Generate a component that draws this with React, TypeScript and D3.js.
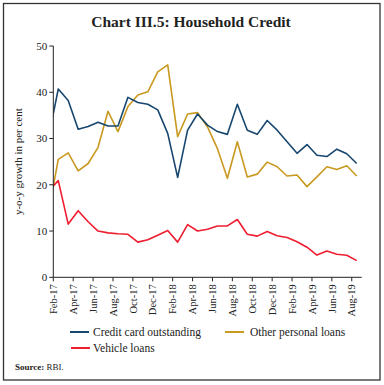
import * as d3 from "d3";

// months shown on the axis (Feb-17 .. Aug-19)
const months = [
  "Feb-17", "Mar-17", "Apr-17", "May-17", "Jun-17", "Jul-17", "Aug-17", "Sep-17", "Oct-17", "Nov-17", "Dec-17",
  "Jan-18", "Feb-18", "Mar-18", "Apr-18", "May-18", "Jun-18", "Jul-18", "Aug-18", "Sep-18", "Oct-18", "Nov-18", "Dec-18",
  "Jan-19", "Feb-19", "Mar-19", "Apr-19", "May-19", "Jun-19", "Jul-19", "Aug-19",
];

// first value of each series is Jan-17, which sits left of the axis and is clipped
const creditCard = [
  30.0, 40.7, 38.2, 32.0, 32.6, 33.5, 32.7, 32.7, 38.9, 37.8, 37.4, 36.2,
  31.1, 21.6, 31.8, 35.3, 32.9, 31.5, 30.9, 37.4, 31.8, 30.9, 33.9, 31.8,
  29.3, 26.8, 28.7, 26.4, 26.1, 27.7, 26.7, 24.6,
];
const otherPersonal = [
  13.9, 25.5, 26.9, 23.0, 24.6, 28.1, 35.9, 31.5, 36.9, 39.4, 40.1, 44.4,
  45.9, 30.4, 35.3, 35.6, 32.5, 27.8, 21.4, 29.3, 21.7, 22.3, 24.9, 23.9,
  21.9, 22.1, 19.6, 21.7, 23.9, 23.3, 24.1, 21.9,
];
const vehicle = [
  18.6, 20.9, 11.5, 14.4, 12.0, 10.0, 9.6, 9.4, 9.3, 7.6, 8.1, 9.1,
  10.1, 7.6, 11.4, 10.0, 10.4, 11.1, 11.1, 12.5, 9.3, 8.9, 9.9, 9.0,
  8.6, 7.7, 6.5, 4.8, 5.7, 5.0, 4.75, 3.6,
];
const yTicks = [0, 10, 20, 30, 40, 50];

const BLUE = "#17466f";
const GOLD = "#c9981f";
const RED = "#ee1d2f";
const FONT = "'Liberation Serif', serif";

const left = 53.3;
const right = 361.7;
const top = 46;
const bottom = 277.3;

const App = () => {
  const x = d3.scaleLinear().domain([0, months.length]).range([left, right]);
  const y = d3.scaleLinear().domain([0, 50]).range([bottom, top]);

  const line = d3
    .line<number>()
    .x((_, i) => x(i - 0.5))
    .y((d) => y(d));

  const series = [
    { data: otherPersonal, color: GOLD },
    { data: creditCard, color: BLUE },
    { data: vehicle, color: RED },
  ];

  return (
    <svg width={384} height={385} style={{ position: "absolute", left: 0, top: 0 }} fontFamily={FONT}>
      <rect x={0} y={0} width={384} height={385} fill="#fff" />
      <rect x={3.5} y={3.5} width={376.5} height={376.5} fill="none" stroke="#333" strokeWidth={1.3} />

      <text x={191} y={27} textAnchor="middle" fontSize={15.5} fontWeight="bold" fill="#222">
        Chart III.5: Household Credit
      </text>

      <defs>
        <clipPath id="plot">
          <rect x={left} y={0} width={right - left + 5} height={385} />
        </clipPath>
      </defs>

      <g clipPath="url(#plot)">
        {series.map((s, k) => (
          <path key={k} d={line(s.data) ?? ""} fill="none" stroke={s.color} strokeWidth={1.6} strokeLinejoin="round" />
        ))}
      </g>

      {/* y axis */}
      <line x1={left} x2={left} y1={top} y2={bottom} stroke="#222" strokeWidth={1} />
      {yTicks.map((t) => (
        <g key={t}>
          <line x1={left - 4} x2={left} y1={y(t)} y2={y(t)} stroke="#222" />
          <text x={left - 6} y={y(t)} dy="0.35em" textAnchor="end" fontSize={11} fill="#222">
            {t}
          </text>
        </g>
      ))}
      <text
        transform={`translate(22,${(top + bottom) / 2}) rotate(-90)`}
        textAnchor="middle"
        fontSize={11}
        fill="#222"
      >
        y-o-y growth in per cent
      </text>

      {/* x axis */}
      <line x1={left} x2={right} y1={bottom} y2={bottom} stroke="#222" strokeWidth={1} />
      {months.map((m, i) =>
        i % 2 === 0 ? (
          <g key={m}>
            <line x1={x(i)} x2={x(i)} y1={bottom} y2={bottom + 4} stroke="#222" />
            <text
              transform={`translate(${x(i)},${bottom + 7}) rotate(-90)`}
              dy="0.35em"
              textAnchor="end"
              fontSize={10.5}
              fill="#222"
            >
              {m}
            </text>
          </g>
        ) : null
      )}

      {/* legend */}
      <line x1={70} x2={89} y1={332} y2={332} stroke={BLUE} strokeWidth={2} />
      <text x={93} y={332} dy="0.35em" fontSize={11.5} fill="#222">Credit card outstanding</text>
      <line x1={225} x2={244} y1={332} y2={332} stroke={GOLD} strokeWidth={2} />
      <text x={250} y={332} dy="0.35em" fontSize={11.5} fill="#222">Other personal loans</text>
      <line x1={71} x2={90} y1={348} y2={348} stroke={RED} strokeWidth={2} />
      <text x={93} y={348} dy="0.35em" fontSize={11.5} fill="#222">Vehicle loans</text>

      <text x={15} y={370} fontSize={9} fill="#222">
        <tspan fontWeight="bold">Source:</tspan> RBI.
      </text>
    </svg>
  );
};

export default App;
